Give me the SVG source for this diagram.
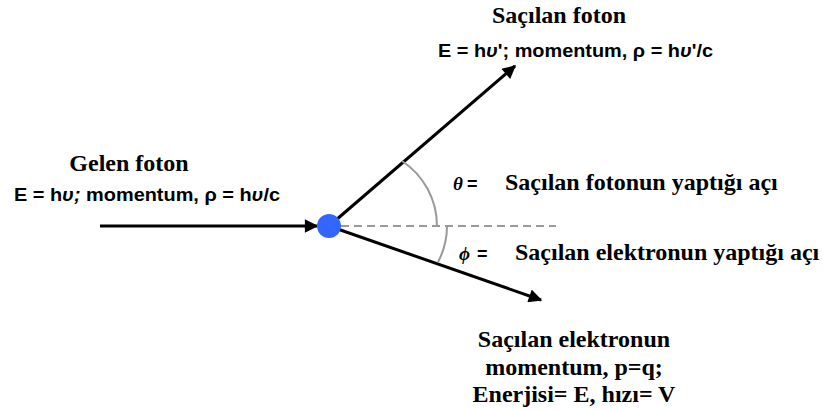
<svg xmlns="http://www.w3.org/2000/svg" width="823" height="409" viewBox="0 0 823 409">
<style>
.serif{font-family:"Liberation Serif","Times New Roman",serif;font-weight:bold;font-size:24px;fill:#000}
.sans{font-family:"Liberation Sans",Arial,sans-serif;font-weight:bold;font-size:18px;fill:#000}
.greek{font-family:"Liberation Serif","Times New Roman",serif;font-weight:bold;font-style:italic;font-size:19px;fill:#000}
.eq{font-family:"Liberation Sans",Arial,sans-serif;font-weight:bold;font-size:18px;fill:#000}
.arrow{stroke:#000;stroke-width:3;fill:none}
.guide{stroke:#999;stroke-width:2;fill:none}
</style>
<defs>
<marker id="ah" viewBox="0 0 10 10" refX="9" refY="5" markerWidth="5" markerHeight="4.5" markerUnits="strokeWidth" orient="auto">
<path d="M0,0 L10,5 L0,10 z" fill="#000"/>
</marker>
</defs>
<g id="connectors">
<line class="arrow" x1="100" y1="226" x2="317" y2="226" marker-end="url(#ah)"/>
<line class="arrow" x1="329" y1="226" x2="515" y2="66" marker-end="url(#ah)"/>
<line class="arrow" x1="329" y1="226" x2="541" y2="300" marker-end="url(#ah)"/>
<line class="guide" x1="341" y1="226" x2="556" y2="226" stroke-dasharray="8 5"/>
<path class="guide" d="M402,161 A78,78 0 0,1 437,226"/>
<path class="guide" d="M447,226 A77,77 0 0,1 438,262"/>
</g>
<g id="particle">
<circle cx="329" cy="226" r="12" fill="#3366ff"/>
</g>
<g id="incoming">
<text class="serif" x="129" y="171" text-anchor="middle">Gelen foton</text>
<text class="sans" x="14" y="201" textLength="266" lengthAdjust="spacingAndGlyphs">E = h<tspan font-style="italic">υ;</tspan> momentum, ρ = h<tspan font-style="italic">υ</tspan>/c</text>
</g>
<g id="scattered-photon">
<text class="serif" x="559" y="23" text-anchor="middle">Saçılan foton</text>
<text class="sans" x="438" y="57" textLength="275" lengthAdjust="spacingAndGlyphs">E = h<tspan font-style="italic">υ</tspan>'; momentum, ρ = h<tspan font-style="italic">υ</tspan>'/c</text>
</g>
<g id="theta-label">
<text class="greek" x="453" y="190">θ</text>
<text class="eq" x="467" y="190">=</text>
<text class="serif" x="505" y="190">Saçılan fotonun yaptığı açı</text>
</g>
<g id="phi-label">
<text class="greek" x="459" y="260">ϕ</text>
<text class="eq" x="477" y="260">=</text>
<text class="serif" x="515" y="260">Saçılan elektronun yaptığı açı</text>
</g>
<g id="scattered-electron">
<text class="serif" x="574" y="347" text-anchor="middle">Saçılan elektronun</text>
<text class="serif" x="574" y="375" text-anchor="middle">momentum, p=q;</text>
<text class="serif" x="574" y="402" text-anchor="middle">Enerjisi= E, hızı= V</text>
</g>
</svg>
